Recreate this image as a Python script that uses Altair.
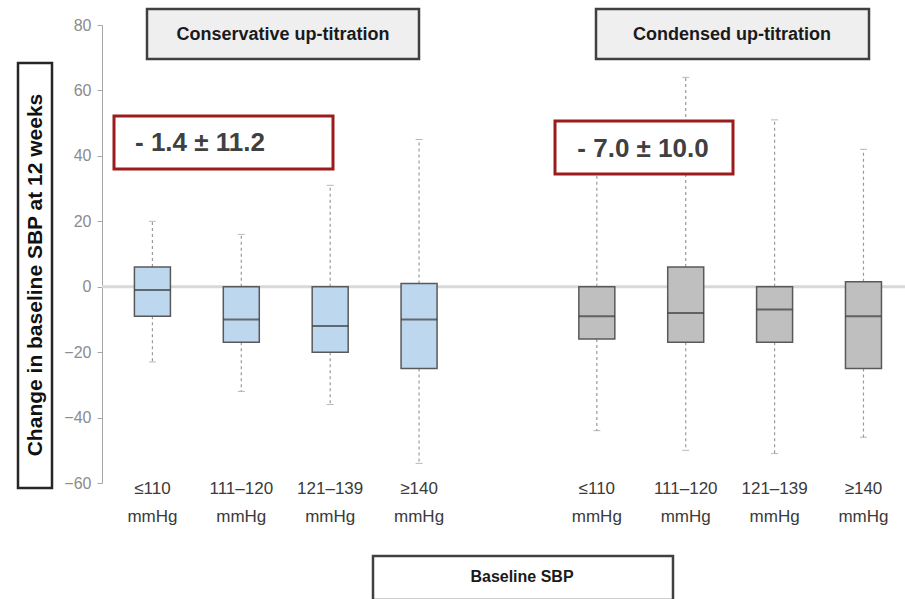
import altair as alt
import pandas as pd

# ---- data ----
cat_line1 = ["≤110", "111–120", "121–139", "≥140"]
cat_line2 = ["mmHg", "mmHg", "mmHg", "mmHg"]
groups = ["Conservative up-titration", "Condensed up-titration"]

cons_min = [-23, -32, -36, -54]
cons_q1 = [-9, -17, -20, -25]
cons_med = [-1, -10, -12, -10]
cons_q3 = [6, 0, 0, 1]
cons_max = [20, 16, 31, 45]

cond_min = [-44, -50, -51, -46]
cond_q1 = [-16, -17, -17, -25]
cond_med = [-9, -8, -7, -9]
cond_q3 = [0, 6, 0, 1.5]
cond_max = [38, 64, 51, 42]

annot = ["- 1.4 ± 11.2", "- 7.0 ± 10.0"]

rows = []
for gi, (g, mn, q1, md, q3, mx) in enumerate([
    (groups[0], cons_min, cons_q1, cons_med, cons_q3, cons_max),
    (groups[1], cond_min, cond_q1, cond_med, cond_q3, cond_max),
]):
    for i in range(4):
        rows.append(dict(group=g, pos=i + 5 * gi, l1=cat_line1[i], l2=cat_line2[i],
                         mn=mn[i], q1=q1[i], med=md[i], q3=q3[i], mx=mx[i]))
df = pd.DataFrame(rows)

W, H = 803, 458
FONT = "Liberation Sans"

xs = alt.Scale(domain=[-0.511, 8.411], nice=False, zero=False)
ys = alt.Scale(domain=[-60, 80], nice=False, zero=False)
X = alt.X("pos:Q", scale=xs, axis=None)
YAX = alt.Axis(values=[-60, -40, -20, 0, 20, 40, 60, 80], grid=False,
               domainColor="#a6a6a6", tickColor="#a6a6a6", tickSize=5,
               labelColor="#8c8c8c", labelFont=FONT, labelFontSize=16,
               labelPadding=6, title=None)

base = alt.Chart(df)

zero_line = alt.Chart(alt.Data(values=[{"v": 0}])).mark_rule(
    color="#d9d9d9", strokeWidth=3
).encode(y=alt.Y("v:Q", scale=ys, axis=YAX))

whisk_hi = base.mark_rule(color="#9a9a9a", strokeWidth=1.2, strokeDash=[3, 3]).encode(
    x=X, y=alt.Y("q3:Q", scale=ys, axis=YAX), y2="mx:Q")
whisk_lo = base.mark_rule(color="#9a9a9a", strokeWidth=1.2, strokeDash=[3, 3]).encode(
    x=X, y=alt.Y("q1:Q", scale=ys, axis=YAX), y2="mn:Q")
cap_hi = base.mark_tick(color="#9a9a9a", size=7, thickness=1, orient="horizontal").encode(
    x=X, y=alt.Y("mx:Q", scale=ys, axis=YAX))
cap_lo = base.mark_tick(color="#9a9a9a", size=7, thickness=1, orient="horizontal").encode(
    x=X, y=alt.Y("mn:Q", scale=ys, axis=YAX))

boxes = base.mark_bar(size=36, stroke="#595959", strokeWidth=1.5).encode(
    x=X, y=alt.Y("q1:Q", scale=ys, axis=YAX), y2="q3:Q",
    fill=alt.Fill("group:N", scale=alt.Scale(domain=groups, range=["#bdd7ee", "#bfbfbf"]),
                  legend=None))
medians = base.mark_tick(color="#3a3a3a", size=36, thickness=2, orient="horizontal").encode(
    x=X, y=alt.Y("med:Q", scale=ys, axis=YAX))

lab1 = base.mark_text(font=FONT, fontSize=17, color="#3a3a3a", baseline="middle").encode(
    x=X, y=alt.value(464), text="l1:N")
lab2 = base.mark_text(font=FONT, fontSize=17, color="#3a3a3a", baseline="middle").encode(
    x=X, y=alt.value(492), text="l2:N")

one = alt.Data(values=[{"a": 1}])


def box(x1, x2, y1, y2, fill, stroke, sw):
    return alt.Chart(one).mark_rect(fill=fill, stroke=stroke, strokeWidth=sw).encode(
        x=alt.value(x1), x2=alt.value(x2), y=alt.value(y1), y2=alt.value(y2))


def txt(s, x, y, size, color, font, align="center", angle=0):
    kw = dict(font=font, fontSize=size, fontWeight="bold", color=color, align=align,
              baseline="middle", text=s)
    if angle:
        kw["angle"] = angle
    return alt.Chart(one).mark_text(**kw).encode(x=alt.value(x), y=alt.value(y))


deco = [
    box(-84, -50, 38, 463, "white", "#262626", 2.5),
    txt("Change in baseline SBP at 12 weeks", -66, 250, 21, "#111111", FONT, angle=270),
    box(45, 317, -16, 34, "#efefef", "#404040", 2.5),
    txt(groups[0], 181, 10, 18, "#1a1a1a", FONT),
    box(494, 767, -16, 34, "#efefef", "#404040", 2.5),
    txt(groups[1], 630, 10, 18, "#1a1a1a", FONT),
    box(12, 231, 91, 144, "white", "#9b1c1c", 3),
    txt(annot[0], 33, 118, 26, "#404040", FONT, align="left"),
    box(453, 631, 96, 149, "white", "#9b1c1c", 3),
    txt(annot[1], 541, 124, 26, "#404040", FONT),
    box(271, 571, 531, 575, "white", "#404040", 2.5),
    txt("Baseline SBP", 420, 552, 16, "#1a1a1a", FONT),
]

chart = alt.layer(
    zero_line, whisk_hi, whisk_lo, cap_hi, cap_lo, boxes, medians, lab1, lab2, *deco
).properties(
    width=W, height=H,
    autosize=alt.AutoSizeParams(type="none"),
    padding={"left": 102, "top": 25, "right": 0, "bottom": 116},
    background="white",
).configure_view(stroke=None)

chart.save("out.html", embed_options={"renderer": "svg", "actions": False})
